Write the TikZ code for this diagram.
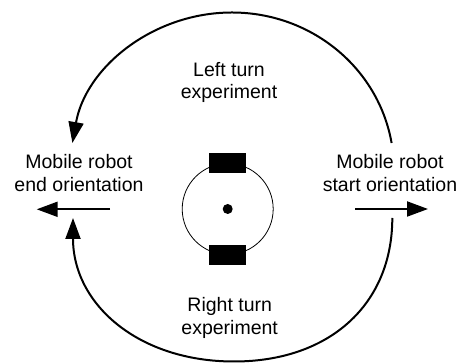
\documentclass[tikz,border=0pt]{standalone}
\usepackage{fontspec}
\setmainfont{Liberation Sans}
\usetikzlibrary{arrows.meta}
\tikzset{
  label text/.style={align=center, font=\fontsize{19.5}{22.5}\selectfont, inner sep=0pt},
  turn arrow/.style={line width=2pt, -{Triangle[length=21pt,width=15pt]}},
  heading arrow/.style={line width=2pt, -{Triangle[length=21pt,width=15pt]}},
  wheel/.style={fill=black, draw=none, minimum width=37pt, minimum height=19.7pt, inner sep=0pt},
}
\begin{document}
\begin{tikzpicture}[x=1pt, y=1pt]
  \useasboundingbox (0,0) rectangle (462,363);

  % labels
  \node[label text] (leftTxt)  at (229,280.5) {Left turn\\experiment};
  \node[label text] (rightTxt) at (229.7,45)  {Right turn\\experiment};
  \node[label text] (endTxt)   at (79,190)    {Mobile robot\\end orientation};
  \node[label text] (startTxt) at (390,190)   {Mobile robot\\start orientation};

  % robot: body, wheels and centre point
  \node[circle, draw, line width=0.8pt, minimum size=91pt, inner sep=0pt] (body) at (227.7,154) {};
  \node[wheel] (wheelTop) at (body.north) {};
  \node[wheel] (wheelBot) at (body.south) {};
  \node[circle, fill=black, minimum size=10pt, inner sep=0pt] (centre) at (body.center) {};

  % heading arrows
  \coordinate (endTail)   at (110,153.7);
  \coordinate (endTip)    at (36.7,153.7);
  \coordinate (startTail) at (355,154);
  \coordinate (startTip)  at (428,154);
  \draw[heading arrow] (endTail) -- (endTip);
  \draw[heading arrow] (startTail) -- (startTip);

  % left turn path (over the top)
  \coordinate (ltStart) at (391.6,220);
  \coordinate (ltTop)   at (232,350.5);
  \coordinate (ltEnd)   at (72.4,220);
  \draw[turn arrow] (ltStart) .. controls +(-13.4,75.7) and +(78.8,0) .. (ltTop)
                              .. controls +(-78.8,0) and +(13.4,75.7) .. (ltEnd);

  % right turn path (under the bottom)
  \coordinate (rtStart)  at (392.3,145);
  \coordinate (rtBottom) at (234,1.5);
  \coordinate (rtEnd)    at (73,145);
  \draw[turn arrow] (rtStart) .. controls +(0,-86) and +(96,0) .. (rtBottom)
                              .. controls +(-96,0) and +(0,-86) .. (rtEnd);
\end{tikzpicture}
\end{document}
